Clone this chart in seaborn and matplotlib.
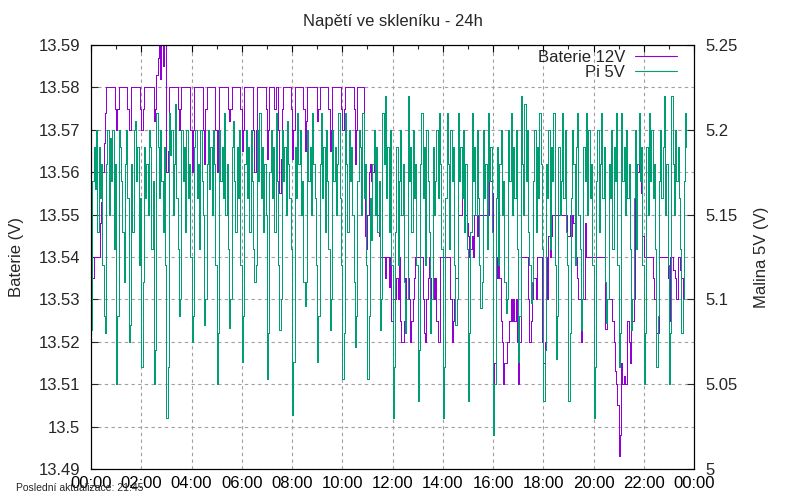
import numpy as np
import pandas as pd
import seaborn as sns
import matplotlib.pyplot as plt
from matplotlib.ticker import MultipleLocator

# ---- data (one row = 30 minutes) ----
SAMPLE_MINUTES = 3

battery_12v = [
    13.535, 13.535, 13.54, 13.54, 13.54, 13.54, 13.54, 13.548, 13.553, 13.56,
    13.567, 13.574, 13.58, 13.58, 13.58, 13.58, 13.58, 13.58, 13.58, 13.575,
    13.57, 13.575, 13.58, 13.58, 13.58, 13.58, 13.58, 13.58, 13.58, 13.575,
    13.57, 13.57, 13.58, 13.58, 13.58, 13.58, 13.58, 13.58, 13.58, 13.575,
    13.57, 13.575, 13.58, 13.58, 13.58, 13.58, 13.58, 13.58, 13.58, 13.58,
    13.572, 13.575, 13.583, 13.587, 13.59, 13.582, 13.596, 13.585, 13.596, 13.597,
    13.56, 13.565, 13.58, 13.58, 13.58, 13.58, 13.58, 13.58, 13.58, 13.575,
    13.57, 13.575, 13.58, 13.58, 13.58, 13.58, 13.58, 13.58, 13.58, 13.57,
    13.56, 13.57, 13.58, 13.58, 13.58, 13.58, 13.58, 13.58, 13.58, 13.57,
    13.562, 13.575, 13.58, 13.58, 13.58, 13.58, 13.58, 13.58, 13.58, 13.57,
    13.56, 13.57, 13.58, 13.58, 13.58, 13.58, 13.58, 13.58, 13.58, 13.575,
    13.572, 13.575, 13.58, 13.58, 13.58, 13.58, 13.58, 13.58, 13.58, 13.575,
    13.565, 13.57, 13.58, 13.58, 13.58, 13.58, 13.58, 13.58, 13.58, 13.57,
    13.56, 13.57, 13.58, 13.58, 13.58, 13.58, 13.58, 13.58, 13.58, 13.575,
    13.563, 13.57, 13.58, 13.58, 13.58, 13.58, 13.575, 13.58, 13.58, 13.57,
    13.555, 13.563, 13.575, 13.58, 13.58, 13.58, 13.58, 13.58, 13.58, 13.575,
    13.563, 13.57, 13.58, 13.58, 13.58, 13.58, 13.58, 13.58, 13.58, 13.575,
    13.565, 13.572, 13.58, 13.58, 13.58, 13.58, 13.58, 13.58, 13.58, 13.58,
    13.572, 13.575, 13.58, 13.58, 13.58, 13.58, 13.58, 13.58, 13.58, 13.575,
    13.565, 13.57, 13.58, 13.58, 13.58, 13.58, 13.58, 13.58, 13.58, 13.575,
    13.57, 13.575, 13.58, 13.58, 13.58, 13.58, 13.58, 13.58, 13.58, 13.575,
    13.562, 13.57, 13.58, 13.58, 13.58, 13.58, 13.58, 13.555, 13.545, 13.542,
    13.55, 13.56, 13.562, 13.558, 13.56, 13.562, 13.558, 13.553, 13.55, 13.545,
    13.54, 13.54, 13.54, 13.54, 13.535, 13.54, 13.54, 13.533, 13.54, 13.525,
    13.53, 13.53, 13.53, 13.535, 13.53, 13.54, 13.525, 13.52, 13.52, 13.525,
    13.535, 13.53, 13.535, 13.53, 13.52, 13.525, 13.53, 13.535, 13.54, 13.54,
    13.54, 13.54, 13.54, 13.54, 13.53, 13.522, 13.52, 13.53, 13.535, 13.54,
    13.535, 13.53, 13.535, 13.53, 13.535, 13.525, 13.52, 13.52, 13.54, 13.54,
    13.54, 13.54, 13.54, 13.54, 13.54, 13.54, 13.53, 13.52, 13.525, 13.53,
    13.535, 13.535, 13.55, 13.55, 13.55, 13.558, 13.56, 13.555, 13.55, 13.548,
    13.545, 13.54, 13.542, 13.545, 13.54, 13.55, 13.55, 13.545, 13.55, 13.55,
    13.55, 13.55, 13.55, 13.55, 13.55, 13.55, 13.55, 13.56, 13.558, 13.555,
    13.51, 13.515, 13.54, 13.535, 13.54, 13.535, 13.525, 13.52, 13.51, 13.515,
    13.515, 13.52, 13.52, 13.525, 13.53, 13.525, 13.53, 13.525, 13.53, 13.52,
    13.51, 13.52, 13.54, 13.54, 13.54, 13.54, 13.54, 13.54, 13.53, 13.52,
    13.525, 13.53, 13.535, 13.535, 13.53, 13.54, 13.54, 13.54, 13.54, 13.52,
    13.515, 13.52, 13.54, 13.53, 13.545, 13.54, 13.545, 13.55, 13.55, 13.55,
    13.55, 13.55, 13.55, 13.55, 13.55, 13.55, 13.55, 13.55, 13.55, 13.545,
    13.545, 13.55, 13.545, 13.55, 13.548, 13.54, 13.54, 13.535, 13.53, 13.53,
    13.52, 13.53, 13.53, 13.548, 13.54, 13.54, 13.54, 13.54, 13.54, 13.54,
    13.54, 13.54, 13.54, 13.54, 13.54, 13.54, 13.54, 13.54, 13.54, 13.523,
    13.523, 13.53, 13.53, 13.53, 13.53, 13.525, 13.52, 13.513, 13.51, 13.505,
    13.493, 13.498, 13.515, 13.51, 13.512, 13.51, 13.51, 13.525, 13.52, 13.515,
    13.53, 13.525, 13.53, 13.56, 13.555, 13.56, 13.562, 13.562, 13.555, 13.545,
    13.54, 13.54, 13.54, 13.54, 13.54, 13.54, 13.54, 13.535, 13.53, 13.53,
    13.522, 13.522, 13.54, 13.54, 13.54, 13.54, 13.54, 13.54, 13.54, 13.535,
    13.525, 13.54, 13.54, 13.537, 13.537, 13.535, 13.53, 13.54, 13.54, 13.537,
    13.535, 13.53, 13.54,
]

pi_5v = [
    5.082, 5.17, 5.19, 5.165, 5.20, 5.14, 5.19, 5.16, 5.18, 5.12,
    5.09, 5.08, 5.18, 5.20, 5.15, 5.195, 5.17, 5.20, 5.13, 5.18,
    5.05, 5.09, 5.20, 5.19, 5.17, 5.14, 5.11, 5.18, 5.20, 5.16,
    5.075, 5.085, 5.18, 5.14, 5.20, 5.205, 5.17, 5.19, 5.12, 5.16,
    5.06, 5.11, 5.19, 5.16, 5.18, 5.15, 5.20, 5.19, 5.13, 5.17,
    5.05, 5.07, 5.21, 5.19, 5.16, 5.20, 5.17, 5.14, 5.19, 5.12,
    5.03, 5.06, 5.21, 5.185, 5.20, 5.15, 5.18, 5.215, 5.16, 5.13,
    5.09, 5.10, 5.20, 5.17, 5.19, 5.14, 5.20, 5.16, 5.18, 5.125,
    5.075, 5.09, 5.19, 5.20, 5.16, 5.18, 5.13, 5.20, 5.17, 5.15,
    5.085, 5.10, 5.18, 5.20, 5.165, 5.19, 5.15, 5.20, 5.18, 5.12,
    5.05, 5.08, 5.20, 5.17, 5.19, 5.16, 5.21, 5.15, 5.18, 5.13,
    5.083, 5.10, 5.19, 5.205, 5.17, 5.14, 5.19, 5.16, 5.20, 5.12,
    5.063, 5.09, 5.18, 5.20, 5.16, 5.19, 5.14, 5.20, 5.17, 5.13,
    5.11, 5.12, 5.20, 5.17, 5.21, 5.16, 5.19, 5.14, 5.18, 5.15,
    5.053, 5.08, 5.175, 5.20, 5.16, 5.19, 5.14, 5.21, 5.17, 5.12,
    5.082, 5.10, 5.20, 5.17, 5.19, 5.15, 5.205, 5.18, 5.16, 5.13,
    5.032, 5.063, 5.19, 5.16, 5.21, 5.18, 5.20, 5.15, 5.17, 5.11,
    5.096, 5.11, 5.20, 5.17, 5.19, 5.15, 5.21, 5.18, 5.16, 5.12,
    5.063, 5.09, 5.18, 5.21, 5.16, 5.19, 5.14, 5.20, 5.17, 5.13,
    5.082, 5.10, 5.20, 5.17, 5.19, 5.15, 5.18, 5.21, 5.16, 5.12,
    5.053, 5.08, 5.21, 5.18, 5.14, 5.20, 5.17, 5.19, 5.15, 5.11,
    5.072, 5.09, 5.17, 5.20, 5.19, 5.15, 5.21, 5.16, 5.18, 5.12,
    5.053, 5.09, 5.16, 5.135, 5.18, 5.20, 5.15, 5.19, 5.14, 5.17,
    5.082, 5.10, 5.21, 5.18, 5.22, 5.16, 5.19, 5.14, 5.20, 5.12,
    5.03, 5.06, 5.14, 5.19, 5.12, 5.17, 5.20, 5.15, 5.18, 5.11,
    5.08, 5.10, 5.22, 5.17, 5.19, 5.14, 5.20, 5.16, 5.18, 5.12,
    5.04, 5.07, 5.18, 5.21, 5.16, 5.19, 5.12, 5.20, 5.17, 5.14,
    5.08, 5.10, 5.19, 5.15, 5.17, 5.20, 5.16, 5.21, 5.18, 5.13,
    5.03, 5.06, 5.16, 5.21, 5.18, 5.13, 5.20, 5.17, 5.19, 5.12,
    5.085, 5.10, 5.21, 5.17, 5.19, 5.16, 5.20, 5.14, 5.18, 5.13,
    5.04, 5.08, 5.14, 5.21, 5.17, 5.19, 5.15, 5.20, 5.16, 5.12,
    5.095, 5.11, 5.20, 5.16, 5.18, 5.13, 5.21, 5.17, 5.19, 5.14,
    5.02, 5.05, 5.16, 5.19, 5.12, 5.18, 5.20, 5.15, 5.17, 5.11,
    5.092, 5.10, 5.20, 5.17, 5.21, 5.15, 5.19, 5.16, 5.20, 5.13,
    5.063, 5.09, 5.22, 5.18, 5.15, 5.215, 5.17, 5.20, 5.14, 5.12,
    5.098, 5.11, 5.17, 5.20, 5.14, 5.19, 5.16, 5.21, 5.18, 5.13,
    5.04, 5.07, 5.18, 5.16, 5.20, 5.13, 5.19, 5.17, 5.21, 5.12,
    5.065, 5.09, 5.19, 5.15, 5.17, 5.21, 5.16, 5.20, 5.14, 5.12,
    5.04, 5.08, 5.16, 5.20, 5.18, 5.12, 5.19, 5.21, 5.15, 5.13,
    5.082, 5.10, 5.19, 5.17, 5.21, 5.15, 5.20, 5.16, 5.18, 5.12,
    5.03, 5.06, 5.17, 5.20, 5.14, 5.18, 5.21, 5.16, 5.19, 5.11,
    5.086, 5.10, 5.18, 5.16, 5.20, 5.13, 5.19, 5.17, 5.21, 5.12,
    5.06, 5.08, 5.21, 5.17, 5.19, 5.15, 5.20, 5.16, 5.18, 5.13,
    5.082, 5.10, 5.16, 5.20, 5.13, 5.18, 5.21, 5.17, 5.19, 5.12,
    5.05, 5.08, 5.19, 5.15, 5.21, 5.17, 5.20, 5.16, 5.18, 5.13,
    5.06, 5.09, 5.17, 5.20, 5.16, 5.19, 5.22, 5.15, 5.18, 5.12,
    5.05, 5.08, 5.22, 5.18, 5.15, 5.20, 5.17, 5.19, 5.16, 5.13,
    5.08, 5.10, 5.17, 5.21, 5.19,
]

x_tick_hours = list(range(0, 25, 2))
x_tick_labels = ["00:00", "02:00", "04:00", "06:00", "08:00", "10:00", "12:00",
                 "14:00", "16:00", "18:00", "20:00", "22:00", "00:00"]
left_ticks = [13.49, 13.50, 13.51, 13.52, 13.53, 13.54, 13.55, 13.56, 13.57, 13.58, 13.59]
left_tick_labels = ["13.49", "13.5", "13.51", "13.52", "13.53", "13.54", "13.55",
                    "13.56", "13.57", "13.58", "13.59"]
right_ticks = [5.0, 5.05, 5.1, 5.15, 5.2, 5.25]
right_tick_labels = ["5", "5.05", "5.1", "5.15", "5.2", "5.25"]

df_bat = pd.DataFrame({
    "t": np.arange(len(battery_12v)) * SAMPLE_MINUTES / 60.0,
    "v": battery_12v,
})
df_pi = pd.DataFrame({
    "t": np.arange(len(pi_5v)) * SAMPLE_MINUTES / 60.0,
    "v": pi_5v,
})

# ---- styling ----
sns.set_theme(style="white")
plt.rcParams["font.family"] = ["Liberation Sans", "DejaVu Sans"]
plt.rcParams["axes.edgecolor"] = "black"
plt.rcParams["axes.linewidth"] = 0.8

PURPLE = "#9400d3"
GREEN = "#009e73"

fig = plt.figure(figsize=(8, 5), dpi=100)
ax = fig.add_axes([91 / 800, 1 - 469 / 500, (694 - 91) / 800, (469 - 45) / 500])
ax2 = ax.twinx()

sns.lineplot(data=df_bat, x="t", y="v", ax=ax, color=PURPLE, lw=0.5,
             drawstyle="steps-post", label="Baterie 12V", legend=False,
             antialiased=False)
sns.lineplot(data=df_pi, x="t", y="v", ax=ax2, color=GREEN, lw=0.5,
             drawstyle="steps-post", label="Pi 5V", legend=False,
             antialiased=False)

ax.set_xlim(0, 24)
ax.set_ylim(13.49, 13.59)
ax2.set_ylim(5.0, 5.25)

ax.set_xticks(x_tick_hours)
ax.set_xticklabels(x_tick_labels, fontsize=12)
ax.xaxis.set_minor_locator(MultipleLocator(1))
ax.set_yticks(left_ticks)
ax.set_yticklabels(left_tick_labels, fontsize=12)
ax2.set_yticks(right_ticks)
ax2.set_yticklabels(right_tick_labels, fontsize=12)

ax.tick_params(axis="x", which="major", direction="in", length=5, width=0.8,
               top=True, pad=5, colors="black")
ax.tick_params(axis="x", which="minor", direction="in", length=3, width=0.8, top=True)
ax.tick_params(axis="y", which="major", direction="in", length=5, width=0.8, pad=8)
ax2.tick_params(axis="y", which="major", direction="in", length=5, width=0.8, pad=8)

ax.grid(True, which="major", color="#a0a0a0", linestyle=(0, (3, 3)), linewidth=0.8)
ax2.grid(False)
ax.set_axisbelow(True)

ax.set_xlabel("")
ax.set_ylabel("Baterie (V)", fontsize=12, labelpad=10)
ax2.set_ylabel("Malina 5V (V)", fontsize=12, labelpad=12)
ax.set_title("Napětí ve skleníku - 24h", fontsize=12, pad=14)

for spine in list(ax.spines.values()) + list(ax2.spines.values()):
    spine.set_color("black")
    spine.set_linewidth(0.8)

h1, l1 = ax.get_legend_handles_labels()
h2, l2 = ax2.get_legend_handles_labels()
leg = ax2.legend(h1 + h2, l1 + l2, loc="upper right",
                 bbox_to_anchor=((677 - 91) / 603, (469 - 50) / 424),
                 frameon=False, markerfirst=False, fontsize=12,
                 handlelength=2.5, handletextpad=0.6, labelspacing=0.0,
                 borderaxespad=0.0, borderpad=0.0)
for line in leg.get_lines():
    line.set_linewidth(0.8)
    line.set_antialiased(True)

fig.text(0.02, 0.024, "Poslední aktualizace: 21:45", fontsize=7.5, ha="left", va="center")

fig.savefig("out.png", dpi=100)
